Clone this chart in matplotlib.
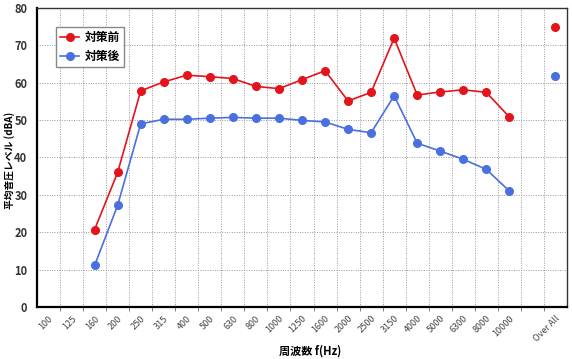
import matplotlib

matplotlib.use("Agg")
import matplotlib.pyplot as plt
from matplotlib.ticker import FixedLocator

plt.rcParams["font.family"] = ["Noto Sans CJK JP", "DejaVu Sans"]

# 1/3 octave bands, one blank slot, then the overall value
bands = ["100", "125", "160", "200", "250", "315", "400", "500", "630", "800",
         "1000", "1250", "1600", "2000", "2500", "3150", "4000", "5000", "6300",
         "8000", "10000", "", "Over All"]

before = [None, None, 20.7, 36.0, 57.8, 60.2, 62.0, 61.6, 61.1, 59.0, 58.4,
          60.8, 63.2, 55.1, 57.4, 71.9, 56.7, 57.5, 58.1, 57.4, 50.8]
after = [None, None, 11.1, 27.2, 49.0, 50.2, 50.2, 50.5, 50.7, 50.5, 50.5,
         49.9, 49.5, 47.5, 46.6, 56.5, 43.8, 41.7, 39.5, 36.8, 31.0]
overall_before = 74.8
overall_after = 61.8

RED = "#e3141c"
BLUE = "#4a70e0"

fig = plt.figure(figsize=(5.72, 3.59), dpi=100)
ax = fig.add_axes([0.0647, 0.145, 0.9265, 0.833])

xs = [i for i, v in enumerate(before) if v is not None]
ax.plot(xs, [before[i] for i in xs], color=RED, marker="o", markersize=5.5,
        linewidth=1.2, label="対策前")
xs = [i for i, v in enumerate(after) if v is not None]
ax.plot(xs, [after[i] for i in xs], color=BLUE, marker="o", markersize=5.5,
        linewidth=1.2, label="対策後")
ax.plot([bands.index("Over All")], [overall_before], "o", color=RED, markersize=5.5)
ax.plot([bands.index("Over All")], [overall_after], "o", color=BLUE, markersize=5.5)

ax.set_xlim(-0.5, len(bands) - 0.5)
ax.set_ylim(0, 80)
ax.set_yticks(range(0, 81, 10))
ax.set_xticks(range(len(bands)))
ax.set_xticklabels(bands, rotation=45, ha="right", rotation_mode="anchor",
                   fontsize=6.5, color="#444444")
ax.xaxis.set_minor_locator(FixedLocator([i + 0.5 for i in range(len(bands) - 1)]))
ax.tick_params(axis="x", which="major", length=0, pad=5)
ax.tick_params(axis="x", which="minor", length=3, color="#666666")
ax.tick_params(axis="y", length=0, labelsize=8, pad=7)
for lbl in ax.get_yticklabels():
    lbl.set_fontweight("bold")
    lbl.set_color("#333333")

ax.grid(axis="x", which="minor", color="#999999", linestyle=(0, (1, 1.5)), linewidth=0.7)
ax.grid(axis="y", which="major", color="#999999", linestyle=(0, (1, 1.5)), linewidth=0.7)

for side in ("left", "bottom"):
    ax.spines[side].set_linewidth(1.6)
    ax.spines[side].set_color("black")
for side in ("top", "right"):
    ax.spines[side].set_linewidth(1.0)
    ax.spines[side].set_color("#333333")

# axis titles placed by hand so they sit where the reference has them
fig.text(10 / 572, 1 - 160 / 359, "平均音圧レベル (dBA)", rotation=90,
         ha="center", va="center", fontsize=7, fontweight="bold")
fig.text(310 / 572, 1 - 351 / 359, "周波数 f(Hz)", ha="center", va="center",
         fontsize=8, fontweight="bold")

leg = ax.legend(loc="upper left", bbox_to_anchor=(0.025, 0.955),
                prop={"weight": "bold", "size": 8.5}, fancybox=False,
                edgecolor="#888888", framealpha=1, borderpad=0.35,
                handlelength=1.6, handletextpad=0.5, labelspacing=0.45)

fig.savefig("out.png", dpi=100)
